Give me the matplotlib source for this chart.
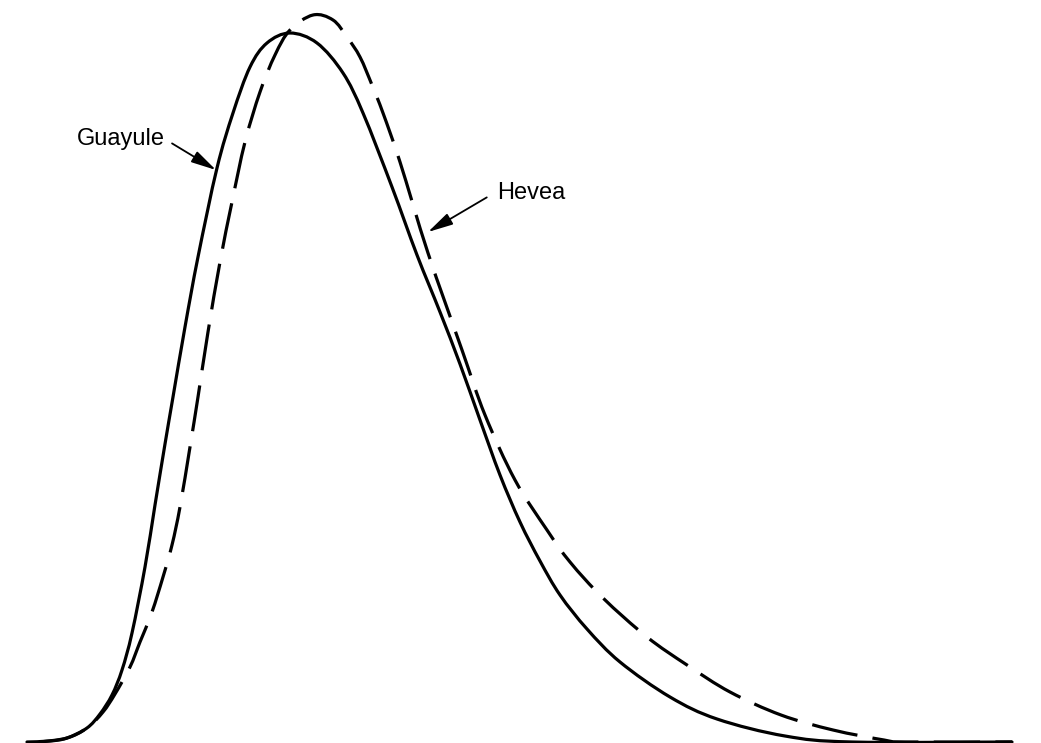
import matplotlib.pyplot as plt
import numpy as np
from matplotlib.path import Path
from matplotlib.patches import PathPatch

plt.rcParams['font.family'] = ['Liberation Sans', 'DejaVu Sans']

# curves: x position, height above the baseline
guayule_x = [27, 50, 67, 87, 100, 112, 122, 132, 145, 155, 165, 173, 185, 198,
             217, 233, 250, 267, 290, 317, 343, 363, 392, 417, 440, 460, 480,
             500, 520, 540, 560, 587, 620, 670, 717, 785, 852, 1012]
guayule_y = [0, 1, 4, 14, 28, 47, 72, 109, 175, 237, 298, 345, 415, 485,
             574, 629, 675, 699, 709, 699, 669, 629, 555, 487, 430, 378, 322,
             267, 220, 181, 147, 113, 80, 45, 23, 6, 0, 0]

hevea_x = [40, 67, 87, 103, 115, 130, 140, 152, 163, 172, 180, 190, 198, 208,
           220, 232, 245, 260, 275, 290, 313, 333, 347, 360, 372, 383, 400,
           428, 462, 485, 515, 547, 570, 603, 647, 687, 730, 781, 833, 884,
           905, 1012]
hevea_y = [0, 4, 14, 30, 48, 75, 100, 130, 165, 197, 235, 295, 345, 410,
           480, 540, 600, 650, 687, 712, 727, 722, 705, 685, 657, 629, 580,
           489, 392, 327, 262, 212, 180, 144, 105, 77, 50, 27, 12, 2,
           0, 0]


def smooth_path(xs, ys):
    # cubic bezier pieces through the read points (catmull-rom tangents)
    p = np.column_stack([xs, ys]).astype(float)
    verts = [p[0]]
    codes = [Path.MOVETO]
    for i in range(len(p) - 1):
        p0 = p[max(i - 1, 0)]
        p1 = p[i]
        p2 = p[i + 1]
        p3 = p[min(i + 2, len(p) - 1)]
        verts += [p1 + (p2 - p0) / 6, p2 - (p3 - p1) / 6, p2]
        codes += [Path.CURVE4] * 3
    return Path(verts, codes)


fig = plt.figure(figsize=(10.41, 7.43), dpi=100)
ax = fig.add_axes([0, 0, 1, 1])
ax.set_xlim(0, 1041)
ax.set_ylim(-1, 742)
ax.axis('off')

ax.add_patch(PathPatch(smooth_path(guayule_x, guayule_y), fill=False,
                       edgecolor='black', lw=2.3, capstyle='round'))
ax.add_patch(PathPatch(smooth_path(hevea_x, hevea_y), fill=False,
                       edgecolor='black', lw=2.3, linestyle=(0, (14.5, 4.8))))

arrow = dict(arrowstyle='-|>,head_length=0.9,head_width=0.22', color='black', lw=1.3)
ax.annotate('Guayule', xy=(216, 742 - 170), xytext=(77, 742 - 139),
            fontsize=17, va='center', ha='left',
            arrowprops=dict(arrow, shrinkA=0, shrinkB=0, relpos=(1.08, 0.3)))
ax.annotate('Hevea', xy=(428, 742 - 232), xytext=(497, 742 - 193),
            fontsize=17, va='center', ha='left',
            arrowprops=dict(arrow, shrinkA=0, shrinkB=0, relpos=(-0.15, 0.3)))

fig.savefig('out.png', dpi=100, facecolor='white')
